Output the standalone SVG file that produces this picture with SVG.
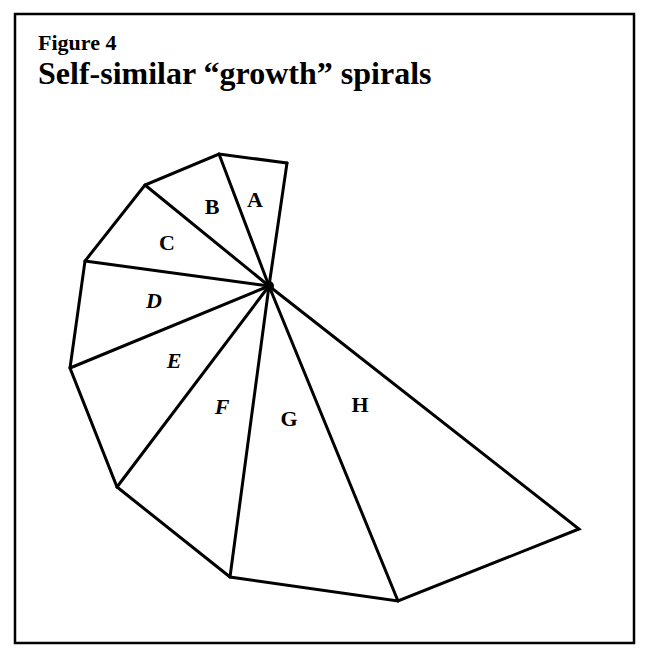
<svg xmlns="http://www.w3.org/2000/svg" width="651" height="659" viewBox="0 0 651 659">
<style>
.frame{fill:none;stroke:#000;stroke-width:2.5}
.edge{fill:none;stroke:#000;stroke-width:3;stroke-linejoin:miter;stroke-linecap:round}
.lbl{font-family:"Liberation Serif",serif;font-weight:bold;font-size:22px;fill:#000;text-anchor:middle}
.it{font-style:italic}
.t1{font-family:"Liberation Serif",serif;font-weight:bold;font-size:22px;fill:#000}
.t2{font-family:"Liberation Serif",serif;font-weight:bold;font-size:32px;fill:#000}
</style>
<rect class="frame" x="15" y="14" width="619" height="629"/>
<text class="t1" x="38" y="50">Figure 4</text>
<text class="t2" x="38" y="84">Self-similar “growth” spirals</text>
<g id="connectors">
<polyline class="edge" points="287,163 219,154 145,185 85,261 70,368 117,487 230,577 398,601 579,529 269,286"/>
<line class="edge" x1="269" y1="286" x2="287" y2="163"/>
<line class="edge" x1="269" y1="286" x2="219" y2="154"/>
<line class="edge" x1="269" y1="286" x2="145" y2="185"/>
<line class="edge" x1="269" y1="286" x2="85" y2="261"/>
<line class="edge" x1="269" y1="286" x2="70" y2="368"/>
<line class="edge" x1="269" y1="286" x2="117" y2="487"/>
<line class="edge" x1="269" y1="286" x2="230" y2="577"/>
<line class="edge" x1="269" y1="286" x2="398" y2="601"/>
<circle cx="269" cy="286" r="5" fill="#000"/>
</g>
<g id="A"><text class="lbl" x="255" y="207">A</text></g>
<g id="B"><text class="lbl" x="212" y="214">B</text></g>
<g id="C"><text class="lbl" x="167" y="250">C</text></g>
<g id="D"><text class="lbl it" x="154" y="308">D</text></g>
<g id="E"><text class="lbl it" x="174" y="368">E</text></g>
<g id="F"><text class="lbl it" x="222" y="414">F</text></g>
<g id="G"><text class="lbl" x="289" y="426">G</text></g>
<g id="H"><text class="lbl" x="360" y="412">H</text></g>
</svg>
